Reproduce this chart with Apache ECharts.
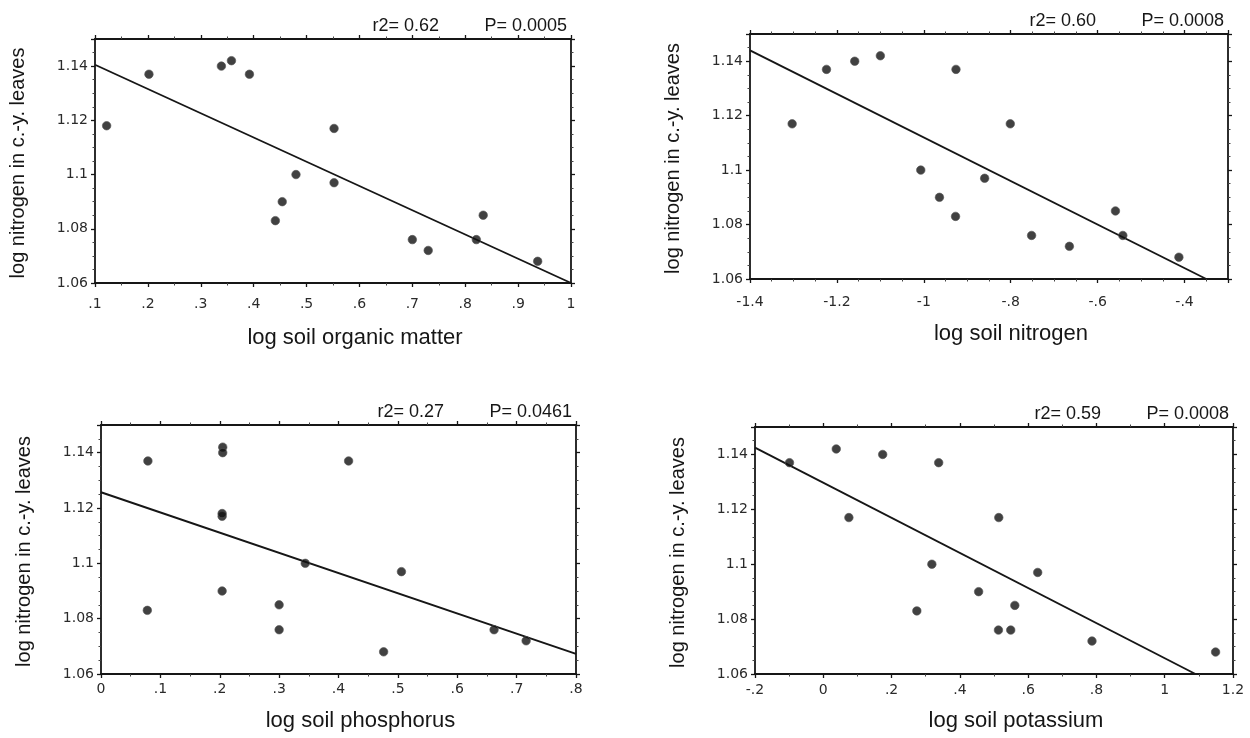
<!DOCTYPE html>
<html>
<head>
<meta charset="utf-8">
<script src="https://cdn.jsdelivr.net/npm/echarts@6/dist/echarts.min.js"></script>
<style>
  html, body { margin: 0; padding: 0; background: #fff; }
  #chart { width: 1250px; height: 738px; }
</style>
</head>
<body>
<div id="chart"></div>
<script>
// leaf nitrogen vs. soil measures, four panels

// log soil organic matter
const omX = [0.122, 0.202, 0.339, 0.358, 0.392, 0.552, 0.480, 0.552, 0.454, 0.441, 0.700, 0.730, 0.821, 0.834, 0.937];
const omY = [1.118, 1.137, 1.140, 1.142, 1.137, 1.117, 1.100, 1.097, 1.090, 1.083, 1.076, 1.072, 1.076, 1.085, 1.068];
const omFit = [[0.1, 1.1405], [1.0, 1.060]];

// log soil nitrogen
const snX = [-1.303, -1.224, -1.159, -1.100, -0.926, -0.801, -1.007, -0.860, -0.964, -0.927, -0.752, -0.665, -0.559, -0.542, -0.413];
const snY = [1.117, 1.137, 1.140, 1.142, 1.137, 1.117, 1.100, 1.097, 1.090, 1.083, 1.076, 1.072, 1.085, 1.076, 1.068];
const snFit = [[-1.4, 1.144], [-0.35, 1.060]];

// log soil phosphorus
const spX = [0.079, 0.078, 0.205, 0.205, 0.204, 0.204, 0.204, 0.300, 0.300, 0.344, 0.417, 0.506, 0.476, 0.662, 0.716];
const spY = [1.137, 1.083, 1.142, 1.140, 1.117, 1.118, 1.090, 1.085, 1.076, 1.100, 1.137, 1.097, 1.068, 1.076, 1.072];
const spFit = [[0, 1.1257], [0.8, 1.0673]];

// log soil potassium
const skX = [-0.099, 0.038, 0.174, 0.338, 0.075, 0.514, 0.318, 0.628, 0.455, 0.274, 0.561, 0.513, 0.549, 0.787, 1.149];
const skY = [1.137, 1.142, 1.140, 1.137, 1.117, 1.117, 1.100, 1.097, 1.090, 1.083, 1.085, 1.076, 1.076, 1.072, 1.068];
const skFit = [[-0.2, 1.1425], [1.09, 1.060]];

const xTitles = ['log soil organic matter', 'log soil nitrogen', 'log soil phosphorus', 'log soil potassium'];
const yTitle = 'log nitrogen in c.-y. leaves';
const r2Labels = ['r2= 0.62', 'r2= 0.60', 'r2= 0.27', 'r2= 0.59'];
const pLabels = ['P= 0.0005', 'P= 0.0008', 'P= 0.0461', 'P= 0.0008'];

// axis ranges: [min, max, interval, minor splits]
const xRanges = [[0.1, 1.0, 0.1, 2], [-1.4, -0.3, 0.2, 4], [0, 0.8, 0.1, 2], [-0.2, 1.2, 0.2, 2]];
const yRange = [1.06, 1.15, 0.02, 4];

const panels = [
    { x: omX, y: omY, fit: omFit, grid: { left: 95, top: 39, width: 476, height: 244 }, labelGap: 14 },
    { x: snX, y: snY, fit: snFit, grid: { left: 750, top: 34, width: 478, height: 245 }, labelGap: 16 },
    { x: spX, y: spY, fit: spFit, grid: { left: 101, top: 425, width: 475, height: 249 }, labelGap: 8 },
    { x: skX, y: skY, fit: skFit, grid: { left: 755, top: 427, width: 478, height: 247 }, labelGap: 9 }
];

const INK = '#161616';
const FONT = 'Liberation Sans';

// .1 instead of 0.1, -.4 instead of -0.4
const tickText = (v) => String(+v.toFixed(2)).replace(/^(-?)0\./, '$1.');

const axisBase = (range, position, showLabel, gap) => ({
    type: 'value',
    position: position,
    min: range[0],
    max: range[1],
    interval: range[2],
    splitLine: { show: false },
    axisLine: { show: true, onZero: false, lineStyle: { color: INK, width: 1.8 } },
    axisTick: { show: true, inside: false, length: 4, lineStyle: { color: INK, width: 1.3 } },
    minorTick: { show: true, splitNumber: range[3], length: 2.5, lineStyle: { color: '#444', width: 1 } },
    axisLabel: {
        show: showLabel,
        margin: gap,
        showMaxLabel: position === 'left' ? false : (range[1] === -0.3 ? false : true),
        formatter: tickText,
        color: '#2a2a2a',
        fontFamily: 'DejaVu Sans',
        fontSize: 14
    }
});

const grids = [];
const xAxes = [];
const yAxes = [];
const series = [];
const graphics = [];

panels.forEach((p, i) => {
    grids.push(Object.assign({ containLabel: false }, p.grid));

    xAxes.push(Object.assign(axisBase(xRanges[i], 'bottom', true, p.labelGap), { gridIndex: i }));
    xAxes.push(Object.assign(axisBase(xRanges[i], 'top', false, 8), { gridIndex: i }));
    yAxes.push(Object.assign(axisBase(yRange, 'left', true, 7), { gridIndex: i }));
    yAxes.push(Object.assign(axisBase(yRange, 'right', false, 8), { gridIndex: i }));

    series.push({
        type: 'line',
        xAxisIndex: i * 2,
        yAxisIndex: i * 2,
        data: p.fit,
        symbol: 'none',
        clip: false,
        silent: true,
        lineStyle: { color: INK, width: 1.9 },
        z: 2
    });
    series.push({
        type: 'scatter',
        xAxisIndex: i * 2,
        yAxisIndex: i * 2,
        data: p.x.map((v, k) => [v, p.y[k]]),
        symbolSize: 8.5,
        itemStyle: { color: '#111', borderColor: '#555', borderWidth: 0.8 },
        z: 3
    });

    const g = p.grid;
    const right = g.left + g.width;
    const statsY = g.top - 13;

    graphics.push({
        type: 'text',
        x: right - 4, y: statsY,
        style: { text: pLabels[i], textAlign: 'right', textVerticalAlign: 'middle', font: '18px ' + FONT, fill: INK }
    });
    graphics.push({
        type: 'text',
        x: right - 132, y: statsY,
        style: { text: r2Labels[i], textAlign: 'right', textVerticalAlign: 'middle', font: '18px ' + FONT, fill: INK }
    });
    // x axis title
    graphics.push({
        type: 'text',
        x: g.left + g.width / 2 + 22, y: g.top + g.height + (i < 2 ? 55 : 47),
        style: { text: xTitles[i], textAlign: 'center', textVerticalAlign: 'middle', font: '22px ' + FONT, fill: INK }
    });
    // y axis title, rotated
    graphics.push({
        type: 'text',
        x: g.left - 77, y: g.top + g.height / 2 + 2,
        rotation: Math.PI / 2,
        style: { text: yTitle, textAlign: 'center', textVerticalAlign: 'middle', font: '20px ' + FONT, fill: INK }
    });
});

const chart = echarts.init(document.getElementById('chart'), null, { renderer: 'canvas' });
chart.setOption({
    backgroundColor: '#ffffff',
    animation: false,
    grid: grids,
    xAxis: xAxes,
    yAxis: yAxes,
    series: series,
    graphic: graphics
});
</script>
</body>
</html>
